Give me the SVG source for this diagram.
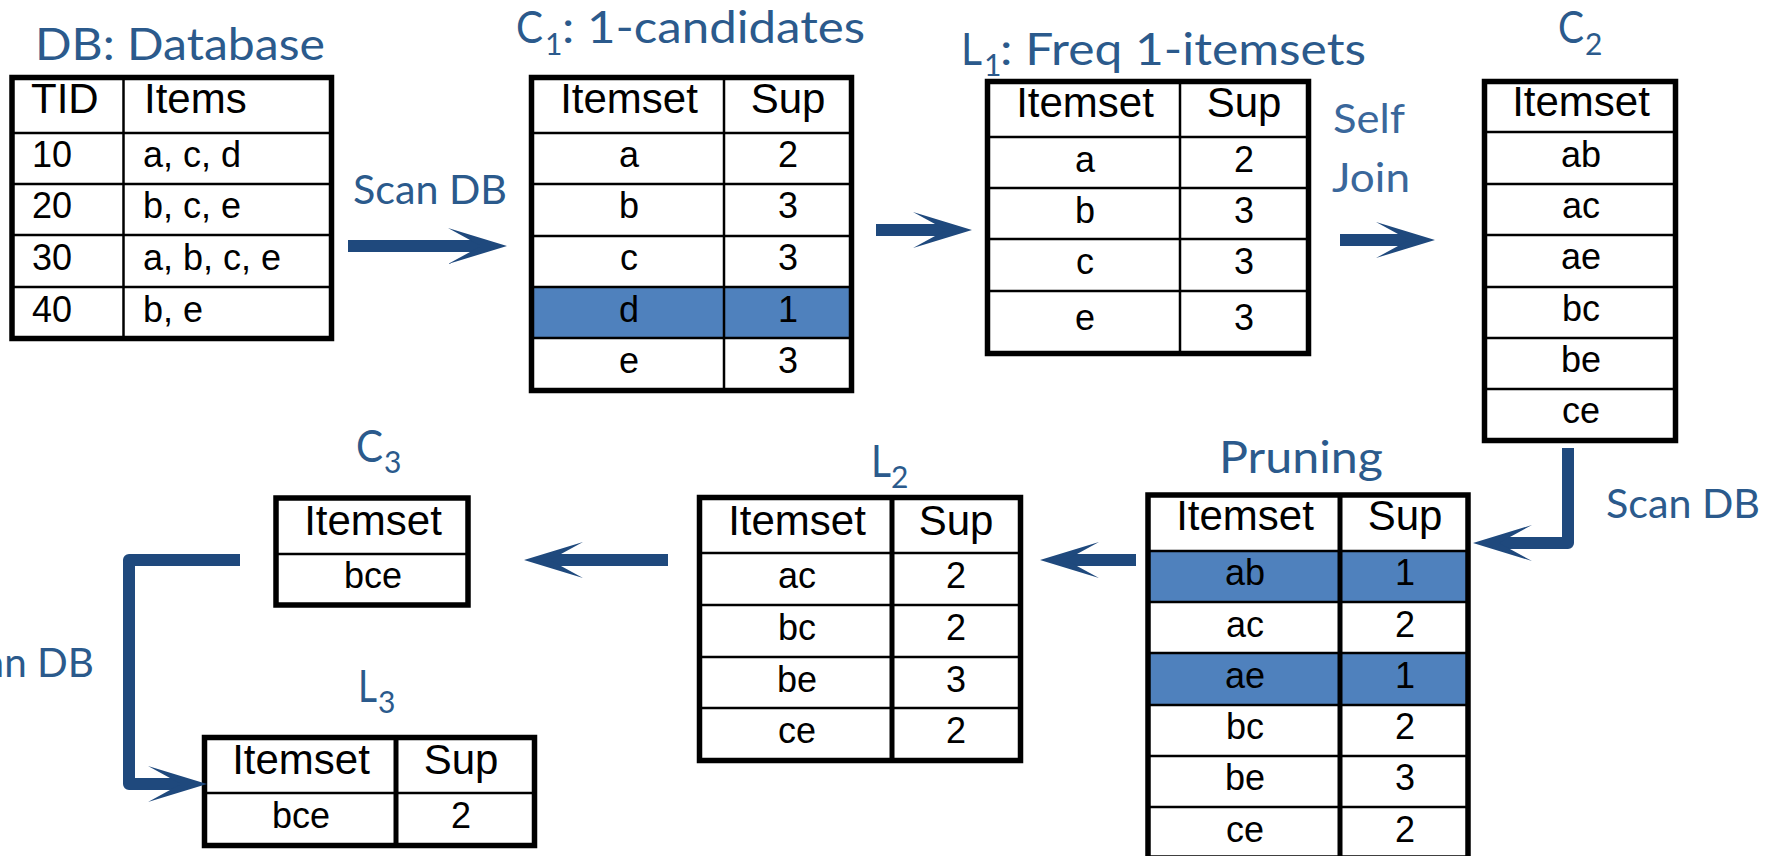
<svg xmlns="http://www.w3.org/2000/svg" width="1777" height="856" viewBox="0 0 1777 856">
  <defs>
    <style>
      .bg { fill: #ffffff; }
      .frame { fill: none; stroke: #000000; stroke-width: 5.5; }
      .rule { stroke: #000000; stroke-width: 2.5; }
      .rule-b { stroke: #000000; stroke-width: 5; }
      .hl { fill: #4F81BD; }
      .th { font-family: "Liberation Sans", Arial, sans-serif; font-size: 42px; fill: #000000; }
      .td { font-family: "Liberation Sans", Arial, sans-serif; font-size: 36px; fill: #000000; }
      .c { text-anchor: middle; }
      .ttl { font-family: Lato, "Noto Sans", sans-serif; font-size: 45px; fill: #2B5A8C; }
      .sub { font-family: Lato, "Noto Sans", sans-serif; font-size: 30px; fill: #2B5A8C; }
      .lbl { font-family: Lato, "Noto Sans", sans-serif; font-size: 41px; fill: #2B5A8C; }
      .lbl2 { font-family: Lato, "Noto Sans", sans-serif; font-size: 40px; fill: #3A679B; }
      .flow { fill: none; stroke: #1F497D; stroke-width: 12; stroke-linejoin: round; stroke-linecap: butt; marker-end: url(#head); }
    </style>
    <!-- notched arrowhead; refX sits on the notch so the shaft ends there -->
    <marker id="head" viewBox="0 0 59 36" refX="33" refY="18" markerWidth="59" markerHeight="36" markerUnits="userSpaceOnUse" orient="auto">
      <path d="M0,0 L59,18 L0,36 L33,18 Z" fill="#1F497D"/>
    </marker>
  </defs>

  <rect x="0" y="0" width="1777" height="856" fill="#ffffff"/>

  <!-- DB: Database -->
  <g id="db">
    <text class="ttl" x="35" y="60" textLength="290" lengthAdjust="spacingAndGlyphs">DB: Database</text>
    <rect class="bg" x="12" y="77.5" width="319.5" height="261"/>
    <line class="rule" x1="123.5" y1="77.5" x2="123.5" y2="338.5"/>
    <line class="rule" x1="12" y1="133" x2="331.5" y2="133"/>
    <line class="rule" x1="12" y1="184" x2="331.5" y2="184"/>
    <line class="rule" x1="12" y1="235" x2="331.5" y2="235"/>
    <line class="rule" x1="12" y1="287" x2="331.5" y2="287"/>
    <rect class="frame" x="12" y="77.5" width="319.5" height="261"/>
    <text class="th" x="31" y="113">TID</text>
    <text class="th" x="144" y="113">Items</text>
    <text class="td" x="32" y="167">10</text>
    <text class="td" x="143" y="167">a, c, d</text>
    <text class="td" x="32" y="218">20</text>
    <text class="td" x="143" y="218">b, c, e</text>
    <text class="td" x="32" y="270">30</text>
    <text class="td" x="143" y="270">a, b, c, e</text>
    <text class="td" x="32" y="322">40</text>
    <text class="td" x="143" y="322">b, e</text>
  </g>

  <!-- C1: 1-candidates -->
  <g id="c1">
    <text class="ttl" x="516" y="43" textLength="27" lengthAdjust="spacingAndGlyphs">C</text>
    <text class="sub" x="545" y="55">1</text>
    <text class="ttl" x="562" y="43" textLength="303" lengthAdjust="spacingAndGlyphs">: 1-candidates</text>
    <rect class="bg" x="531.5" y="77.5" width="320" height="313"/>
    <rect class="hl" x="531.5" y="287" width="320" height="51"/>
    <line class="rule" x1="724" y1="77.5" x2="724" y2="390.5"/>
    <line class="rule" x1="531.5" y1="133" x2="851.5" y2="133"/>
    <line class="rule" x1="531.5" y1="184" x2="851.5" y2="184"/>
    <line class="rule" x1="531.5" y1="236" x2="851.5" y2="236"/>
    <line class="rule" x1="531.5" y1="287" x2="851.5" y2="287"/>
    <line class="rule" x1="531.5" y1="338" x2="851.5" y2="338"/>
    <rect class="frame" x="531.5" y="77.5" width="320" height="313"/>
    <text class="th c" x="629" y="113">Itemset</text>
    <text class="th c" x="788" y="113">Sup</text>
    <text class="td c" x="629" y="167">a</text>
    <text class="td c" x="788" y="167">2</text>
    <text class="td c" x="629" y="218">b</text>
    <text class="td c" x="788" y="218">3</text>
    <text class="td c" x="629" y="270">c</text>
    <text class="td c" x="788" y="270">3</text>
    <text class="td c" x="629" y="322">d</text>
    <text class="td c" x="788" y="322">1</text>
    <text class="td c" x="629" y="373">e</text>
    <text class="td c" x="788" y="373">3</text>
  </g>

  <!-- L1: Freq 1-itemsets -->
  <g id="l1">
    <text class="ttl" x="961" y="65" textLength="21" lengthAdjust="spacingAndGlyphs">L</text>
    <text class="sub" x="984" y="76">1</text>
    <text class="ttl" x="1000" y="65" textLength="366" lengthAdjust="spacingAndGlyphs">: Freq 1-itemsets</text>
    <rect class="bg" x="987.5" y="81.5" width="321" height="272"/>
    <line class="rule" x1="1180" y1="81.5" x2="1180" y2="353.5"/>
    <line class="rule" x1="987.5" y1="137" x2="1308.5" y2="137"/>
    <line class="rule" x1="987.5" y1="188" x2="1308.5" y2="188"/>
    <line class="rule" x1="987.5" y1="239" x2="1308.5" y2="239"/>
    <line class="rule" x1="987.5" y1="291" x2="1308.5" y2="291"/>
    <rect class="frame" x="987.5" y="81.5" width="321" height="272"/>
    <text class="th c" x="1085" y="117">Itemset</text>
    <text class="th c" x="1244" y="117">Sup</text>
    <text class="td c" x="1085" y="172">a</text>
    <text class="td c" x="1244" y="172">2</text>
    <text class="td c" x="1085" y="223">b</text>
    <text class="td c" x="1244" y="223">3</text>
    <text class="td c" x="1085" y="274">c</text>
    <text class="td c" x="1244" y="274">3</text>
    <text class="td c" x="1085" y="330">e</text>
    <text class="td c" x="1244" y="330">3</text>
  </g>

  <!-- Self Join label -->
  <g id="self-join">
    <text class="lbl2" x="1333" y="133" textLength="72" lengthAdjust="spacingAndGlyphs">Self</text>
    <text class="lbl2" x="1332" y="192" textLength="78" lengthAdjust="spacingAndGlyphs">Join</text>
  </g>

  <!-- C2 -->
  <g id="c2">
    <text class="ttl" x="1558" y="43" textLength="26" lengthAdjust="spacingAndGlyphs">C</text>
    <text class="sub" x="1585" y="55">2</text>
    <rect class="bg" x="1484.5" y="81.5" width="191" height="359"/>
    <line class="rule" x1="1484.5" y1="132" x2="1675.5" y2="132"/>
    <line class="rule" x1="1484.5" y1="184" x2="1675.5" y2="184"/>
    <line class="rule" x1="1484.5" y1="235" x2="1675.5" y2="235"/>
    <line class="rule" x1="1484.5" y1="287" x2="1675.5" y2="287"/>
    <line class="rule" x1="1484.5" y1="338" x2="1675.5" y2="338"/>
    <line class="rule" x1="1484.5" y1="389" x2="1675.5" y2="389"/>
    <rect class="frame" x="1484.5" y="81.5" width="191" height="359"/>
    <text class="th c" x="1581" y="116">Itemset</text>
    <text class="td c" x="1581" y="167">ab</text>
    <text class="td c" x="1581" y="218">ac</text>
    <text class="td c" x="1581" y="269">ae</text>
    <text class="td c" x="1581" y="321">bc</text>
    <text class="td c" x="1581" y="372">be</text>
    <text class="td c" x="1581" y="423">ce</text>
  </g>

  <!-- Pruning -->
  <g id="pruning">
    <text class="ttl" x="1219" y="473" font-size="46" textLength="164" lengthAdjust="spacingAndGlyphs">Pruning</text>
    <rect class="bg" x="1148" y="495" width="320" height="363"/>
    <rect class="hl" x="1148" y="551" width="320" height="51"/>
    <rect class="hl" x="1148" y="653" width="320" height="52"/>
    <line class="rule-b" x1="1340" y1="495" x2="1340" y2="858"/>
    <line class="rule" x1="1148" y1="551" x2="1468" y2="551" stroke-width="3.5"/>
    <line class="rule" x1="1148" y1="602" x2="1468" y2="602" stroke-width="3.5"/>
    <line class="rule" x1="1148" y1="653" x2="1468" y2="653" stroke-width="3.5"/>
    <line class="rule" x1="1148" y1="705" x2="1468" y2="705" stroke-width="3.5"/>
    <line class="rule" x1="1148" y1="756" x2="1468" y2="756"/>
    <line class="rule" x1="1148" y1="807" x2="1468" y2="807"/>
    <rect class="frame" x="1148" y="495" width="320" height="363"/>
    <text class="th c" x="1245" y="530">Itemset</text>
    <text class="th c" x="1405" y="530">Sup</text>
    <text class="td c" x="1245" y="585">ab</text>
    <text class="td c" x="1405" y="585">1</text>
    <text class="td c" x="1245" y="637">ac</text>
    <text class="td c" x="1405" y="637">2</text>
    <text class="td c" x="1245" y="688">ae</text>
    <text class="td c" x="1405" y="688">1</text>
    <text class="td c" x="1245" y="739">bc</text>
    <text class="td c" x="1405" y="739">2</text>
    <text class="td c" x="1245" y="790">be</text>
    <text class="td c" x="1405" y="790">3</text>
    <text class="td c" x="1245" y="842">ce</text>
    <text class="td c" x="1405" y="842">2</text>
  </g>

  <!-- L2 -->
  <g id="l2">
    <text class="ttl" x="871" y="477" textLength="20" lengthAdjust="spacingAndGlyphs">L</text>
    <text class="sub" x="891" y="488">2</text>
    <rect class="bg" x="699.5" y="497.5" width="321" height="263"/>
    <line class="rule-b" x1="892" y1="497.5" x2="892" y2="760.5"/>
    <line class="rule" x1="699.5" y1="553" x2="1020.5" y2="553"/>
    <line class="rule" x1="699.5" y1="605" x2="1020.5" y2="605"/>
    <line class="rule" x1="699.5" y1="657" x2="1020.5" y2="657"/>
    <line class="rule" x1="699.5" y1="708" x2="1020.5" y2="708"/>
    <rect class="frame" x="699.5" y="497.5" width="321" height="263"/>
    <text class="th c" x="797" y="535">Itemset</text>
    <text class="th c" x="956" y="535">Sup</text>
    <text class="td c" x="797" y="588">ac</text>
    <text class="td c" x="956" y="588">2</text>
    <text class="td c" x="797" y="640">bc</text>
    <text class="td c" x="956" y="640">2</text>
    <text class="td c" x="797" y="692">be</text>
    <text class="td c" x="956" y="692">3</text>
    <text class="td c" x="797" y="743">ce</text>
    <text class="td c" x="956" y="743">2</text>
  </g>

  <!-- C3 -->
  <g id="c3">
    <text class="ttl" x="356" y="462" textLength="27" lengthAdjust="spacingAndGlyphs">C</text>
    <text class="sub" x="384" y="473">3</text>
    <rect class="bg" x="276" y="498" width="192" height="107"/>
    <line class="rule" x1="276" y1="554" x2="468" y2="554"/>
    <rect class="frame" x="276" y="498" width="192" height="107"/>
    <text class="th c" x="373" y="535">Itemset</text>
    <text class="td c" x="373" y="588">bce</text>
  </g>

  <!-- L3 -->
  <g id="l3">
    <text class="ttl" x="358" y="702" textLength="19" lengthAdjust="spacingAndGlyphs">L</text>
    <text class="sub" x="378" y="713">3</text>
    <rect class="bg" x="204.5" y="737.5" width="330" height="108"/>
    <line class="rule-b" x1="396" y1="737.5" x2="396" y2="845.5"/>
    <line class="rule" x1="204.5" y1="793" x2="534.5" y2="793"/>
    <rect class="frame" x="204.5" y="737.5" width="330" height="108"/>
    <text class="th c" x="301" y="774">Itemset</text>
    <text class="th c" x="461" y="774">Sup</text>
    <text class="td c" x="301" y="828">bce</text>
    <text class="td c" x="461" y="828">2</text>
  </g>

  <!-- step labels on the connectors -->
  <g id="scan-labels">
    <text class="lbl" x="353" y="204" textLength="154" lengthAdjust="spacingAndGlyphs">Scan DB</text>
    <text class="lbl" x="1606" y="518" textLength="154" lengthAdjust="spacingAndGlyphs">Scan DB</text>
    <text class="lbl" x="-57" y="677" textLength="151" lengthAdjust="spacingAndGlyphs">Scan DB</text>
  </g>

  <!-- connectors -->
  <g id="connectors">
    <path class="flow" d="M348,246 L481,246"/>
    <path class="flow" d="M876,230 L946,230"/>
    <path class="flow" d="M1340,240 L1409,240"/>
    <path class="flow" d="M1568,448 L1568,543 L1499,543"/>
    <path class="flow" d="M1136,560 L1066,560"/>
    <path class="flow" d="M668,560 L550,560"/>
    <path class="flow" d="M240,560 L129,560 L129,784 L181,784"/>
  </g>
</svg>
